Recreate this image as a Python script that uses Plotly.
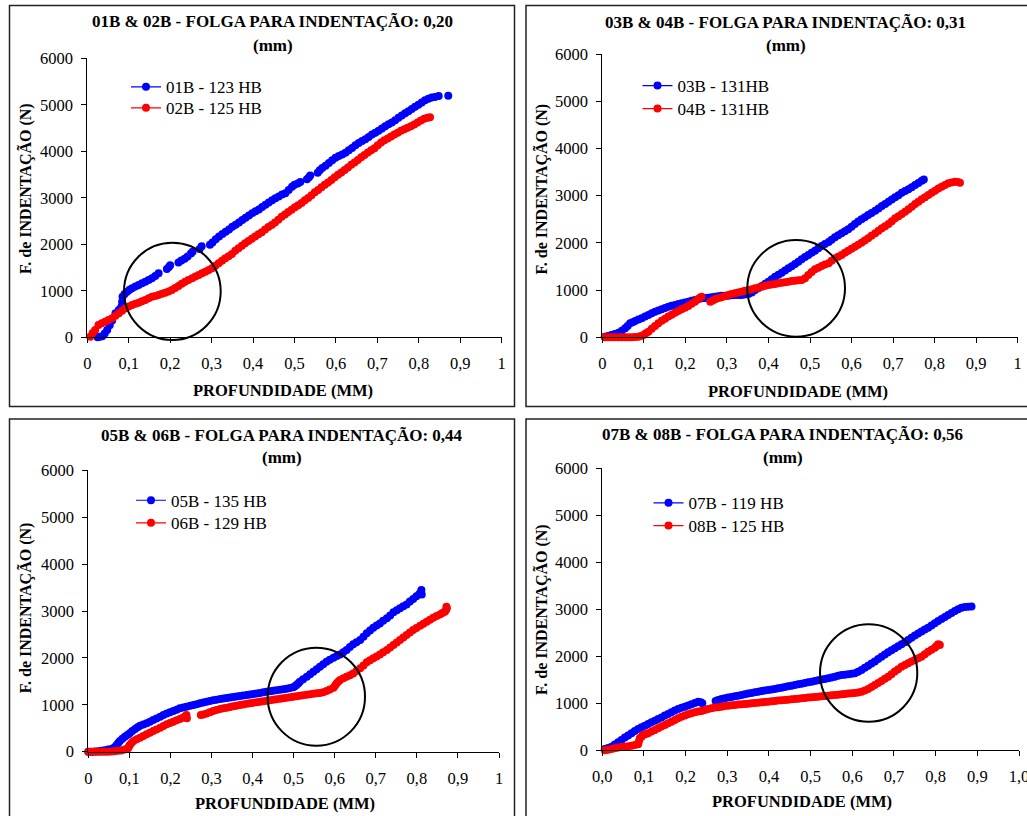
import plotly.graph_objects as go

# ---------------- data ----------------
N = None
p1_blue_x = [0.025,0.03,0.036,0.042,0.048,0.054,0.06,0.068,0.076,0.082,0.084,0.085,0.09,0.096,0.102,0.108,0.116,0.124,0.132,0.14,0.148,0.156,0.164,0.172,N,0.192,0.197,0.2,N,0.22,0.227,0.235,0.242,0.25,0.254,N,0.271,0.276,N,0.296,0.302,0.31,0.318,0.326,0.334,0.342,0.35,0.358,0.366,0.374,0.382,0.39,0.398,0.406,0.414,0.422,0.43,0.438,0.446,0.454,0.462,0.47,0.478,0.486,0.494,0.5,0.508,0.514,N,0.53,0.535,0.538,N,0.556,0.561,0.567,0.575,0.583,0.591,0.599,0.607,0.615,0.623,0.631,0.639,0.647,0.655,0.663,0.671,0.679,0.687,0.695,0.703,0.711,0.719,0.727,0.735,0.743,0.751,0.759,0.767,0.775,0.783,0.791,0.799,0.807,0.815,0.823,0.831,0.839,0.848,N,0.871]
p1_blue_y = [0,10,20,80,157,260,360,516,587,650,760,873,930,980,1020,1054,1090,1125,1160,1197,1233,1269,1320,1376,N,1470,1510,1550,N,1610,1650,1690,1740,1800,1841,N,1900,1960,N,1990,2040,2110,2170,2220,2270,2320,2380,2420,2470,2520,2570,2620,2670,2710,2750,2800,2850,2900,2945,2990,3030,3070,3100,3170,3240,3280,3310,3340,N,3400,3440,3480,N,3540,3590,3640,3690,3750,3810,3860,3900,3930,3970,4020,4070,4130,4180,4220,4260,4310,4360,4400,4440,4490,4540,4580,4620,4670,4720,4770,4820,4860,4910,4960,5000,5050,5100,5130,5155,5170,5190,N,5197]
p1_red_x = [0.007,0.013,0.019,0.027,0.035,0.043,0.051,0.06,0.068,0.076,0.084,0.092,0.1,0.108,0.116,0.124,0.132,0.14,0.148,0.156,0.164,0.172,0.18,0.188,0.196,0.204,0.212,0.22,0.228,0.236,0.244,0.253,0.261,0.269,0.277,0.285,0.293,0.301,0.309,0.317,0.325,0.333,0.341,0.349,0.357,0.365,0.373,0.381,0.389,0.397,0.405,0.413,0.421,0.429,0.437,0.445,0.453,0.461,0.469,0.477,0.485,0.493,0.501,0.509,0.517,0.525,0.533,0.541,0.549,0.557,0.565,0.573,0.581,0.589,0.597,0.605,0.613,0.621,0.629,0.637,0.645,0.653,0.661,0.669,0.677,0.685,0.693,0.701,0.709,0.717,0.725,0.733,0.741,0.749,0.757,0.765,0.773,0.781,0.789,0.797,0.805,0.813,0.821,0.827]
p1_red_y = [13,90,157,264,300,336,372,409,462,516,570,624,660,695,720,745,775,802,840,873,890,910,935,959,985,1017,1060,1103,1150,1196,1232,1269,1305,1340,1375,1411,1448,1484,1537,1591,1645,1699,1745,1791,1860,1915,1970,2020,2070,2120,2170,2215,2260,2320,2370,2415,2470,2530,2590,2640,2695,2745,2795,2840,2890,2945,2995,3055,3120,3170,3225,3280,3330,3385,3440,3495,3545,3600,3650,3710,3760,3815,3870,3920,3975,4020,4065,4130,4190,4235,4275,4320,4360,4400,4440,4475,4505,4540,4575,4620,4665,4700,4720,4731]

p2_blue_x = [0.006,0.014,0.022,0.03,0.039,0.047,0.055,0.061,0.067,0.073,0.079,0.087,0.095,0.103,0.111,0.119,0.127,0.135,0.143,0.151,0.159,0.167,0.175,0.183,0.191,0.199,0.207,0.215,0.223,0.231,0.239,0.247,0.255,0.263,0.271,0.279,0.287,0.295,0.303,0.311,0.319,0.327,0.335,0.343,0.352,0.36,0.368,0.376,0.384,0.392,0.4,0.408,0.416,0.424,0.432,0.44,0.448,0.456,0.464,0.472,0.48,0.488,0.496,0.504,0.512,0.52,0.528,0.536,0.545,0.552,0.56,0.568,0.576,0.584,0.592,0.6,0.608,0.616,0.624,0.632,0.64,0.648,0.657,0.665,0.673,0.681,0.689,0.697,0.705,0.713,0.721,0.729,0.737,0.745,0.753,0.761,0.769,0.774]
p2_blue_y = [14,30,49,70,99,140,190,240,296,320,346,375,402,440,473,510,543,570,593,620,649,668,685,703,720,738,755,772,790,808,826,833,840,850,861,872,882,882,882,889,896,896,896,905,917,950,1002,1045,1087,1133,1179,1230,1284,1325,1369,1415,1461,1507,1553,1600,1652,1700,1743,1790,1835,1885,1934,1975,2018,2065,2117,2160,2202,2245,2287,2340,2399,2450,2498,2545,2590,2635,2682,2730,2781,2825,2872,2920,2964,3010,3063,3100,3133,3180,3225,3270,3317,3340]
p2_red_x = [0.006,0.014,0.022,0.03,0.039,0.047,0.055,0.063,0.071,0.079,0.087,0.093,0.099,0.105,0.111,0.119,0.127,0.135,0.143,0.151,0.159,0.167,0.175,0.183,0.191,0.199,0.207,0.215,0.223,0.229,0.235,0.239,N,0.26,0.266,0.273,0.28,0.287,0.295,0.303,0.311,0.319,0.327,0.335,0.343,0.352,0.36,0.368,0.376,0.384,0.392,0.4,0.408,0.416,0.424,0.432,0.44,0.448,0.456,0.464,0.472,0.48,0.488,0.496,0.504,0.512,0.52,0.528,0.536,0.545,0.552,0.56,0.568,0.576,0.584,0.592,0.6,0.608,0.616,0.624,0.632,0.64,0.648,0.657,0.665,0.673,0.681,0.689,0.697,0.705,0.713,0.721,0.729,0.737,0.745,0.753,0.761,0.769,0.777,0.785,0.793,0.801,0.809,0.817,0.825,0.833,0.841,0.849,0.856,0.861]
p2_red_y = [0,0,0,0,0,0,0,0,0,5,14,30,49,85,120,180,240,297,353,395,438,480,522,557,593,628,663,710,755,800,840,861,N,755,780,810,830,847,870,896,915,932,950,967,985,1002,1020,1037,1055,1073,1090,1108,1118,1129,1143,1157,1168,1179,1190,1200,1207,1214,1249,1320,1385,1440,1475,1510,1540,1567,1620,1673,1708,1743,1790,1835,1878,1920,1962,2004,2050,2096,2150,2202,2255,2308,2350,2399,2460,2520,2565,2612,2660,2710,2765,2823,2870,2922,2968,3013,3060,3105,3150,3190,3225,3260,3280,3296,3290,3275]

p3_blue_x = [0,0.008,0.016,0.024,0.032,0.04,0.048,0.056,0.061,0.065,0.069,0.073,0.077,0.083,0.089,0.095,0.101,0.107,0.114,0.12,0.126,0.134,0.142,0.15,0.158,0.166,0.175,0.183,0.191,0.199,0.207,0.215,0.223,0.231,0.239,0.248,0.256,0.264,0.272,0.28,0.288,0.296,0.304,0.312,0.321,0.329,0.337,0.345,0.353,0.361,0.369,0.377,0.386,0.394,0.402,0.41,0.418,0.426,0.434,0.442,0.45,0.458,0.467,0.475,0.483,0.491,0.499,0.503,0.507,0.511,0.515,0.523,0.532,0.54,0.548,0.556,0.564,0.572,0.58,0.588,0.597,0.605,0.613,0.621,0.629,0.637,0.645,0.653,0.662,0.67,0.678,0.686,0.694,0.702,0.71,0.718,0.727,0.735,0.743,0.751,0.759,0.767,0.775,0.783,0.791,0.799,0.806,0.81,0.811,0.812]
p3_blue_y = [0,0,5,10,20,30,45,55,71,100,142,185,227,275,320,355,391,440,483,520,554,580,604,640,675,710,746,780,817,842,867,895,924,942,960,978,995,1013,1031,1048,1066,1080,1095,1109,1123,1134,1144,1155,1166,1176,1187,1198,1208,1219,1230,1240,1251,1265,1279,1290,1301,1312,1322,1333,1343,1358,1372,1395,1421,1455,1493,1545,1599,1650,1706,1760,1812,1865,1919,1960,2004,2040,2075,2120,2168,2230,2289,2335,2381,2450,2523,2585,2644,2690,2736,2790,2843,2905,2971,3015,3056,3100,3141,3200,3255,3315,3360,3400,3450,3350]
p3_red_x = [0,0.008,0.016,0.024,0.032,0.04,0.048,0.056,0.064,0.072,0.08,0.088,0.094,0.097,0.099,0.101,0.105,0.11,0.118,0.126,0.134,0.142,0.15,0.158,0.166,0.175,0.183,0.191,0.199,0.207,0.215,0.223,0.23,0.235,0.239,0.24,N,0.274,0.28,0.288,0.296,0.304,0.312,0.321,0.329,0.337,0.345,0.353,0.361,0.369,0.377,0.386,0.394,0.402,0.41,0.418,0.426,0.434,0.442,0.45,0.458,0.467,0.475,0.483,0.491,0.499,0.507,0.515,0.523,0.532,0.54,0.548,0.556,0.564,0.572,0.58,0.588,0.597,0.601,0.605,0.609,0.613,0.621,0.629,0.637,0.645,0.653,0.662,0.67,0.678,0.686,0.694,0.702,0.71,0.718,0.727,0.735,0.743,0.751,0.759,0.767,0.775,0.783,0.791,0.799,0.808,0.816,0.824,0.832,0.84,0.848,0.856,0.862,0.868,0.871,0.873,0.872]
p3_red_y = [0,0,0,0,0,0,0,5,10,18,28,45,60,71,110,142,185,227,265,299,335,370,405,441,475,512,548,583,612,640,668,697,725,746,780,711,N,782,795,817,842,867,890,910,925,938,952,967,981,995,1009,1023,1034,1045,1055,1066,1076,1087,1098,1109,1120,1130,1140,1151,1162,1173,1183,1194,1204,1215,1226,1237,1244,1251,1270,1294,1325,1365,1410,1457,1495,1528,1565,1599,1630,1670,1720,1777,1840,1905,1950,1990,2030,2075,2120,2168,2220,2274,2330,2381,2435,2488,2540,2594,2640,2687,2730,2772,2815,2857,2895,2928,2955,2985,3020,3056,3090]

p4_blue_x = [0.006,0.014,0.022,0.03,0.038,0.046,0.054,0.062,0.07,0.078,0.086,0.094,0.102,0.11,0.118,0.126,0.134,0.142,0.15,0.158,0.166,0.174,0.182,0.19,0.198,0.206,0.214,0.222,0.23,0.236,0.24,N,0.272,0.278,0.286,0.294,0.302,0.31,0.318,0.326,0.334,0.342,0.35,0.358,0.366,0.374,0.382,0.39,0.398,0.406,0.414,0.422,0.43,0.438,0.446,0.454,0.462,0.47,0.478,0.486,0.494,0.502,0.51,0.518,0.526,0.534,0.542,0.55,0.558,0.566,0.574,0.582,0.59,0.598,0.606,0.614,0.622,0.63,0.638,0.646,0.654,0.662,0.67,0.678,0.686,0.694,0.702,0.71,0.718,0.726,0.734,0.742,0.75,0.758,0.766,0.774,0.782,0.79,0.798,0.806,0.814,0.822,0.83,0.838,0.846,0.854,0.862,0.87,0.878,0.886]
p4_blue_y = [28,50,78,125,170,220,270,315,362,410,454,490,525,560,596,630,667,700,738,775,809,845,879,905,929,955,979,1005,1035,1021,1000,N,1050,1070,1092,1106,1121,1135,1149,1163,1177,1192,1206,1220,1234,1248,1262,1273,1284,1295,1305,1319,1333,1348,1362,1376,1390,1404,1418,1433,1447,1461,1475,1490,1504,1518,1532,1550,1567,1585,1603,1610,1617,1627,1638,1670,1709,1755,1801,1845,1887,1940,1993,2040,2085,2128,2170,2213,2255,2300,2348,2395,2440,2483,2525,2568,2610,2655,2702,2750,2794,2835,2879,2920,2965,3000,3035,3050,3055,3057]
p4_red_x = [0.006,0.014,0.022,0.03,0.038,0.046,0.054,0.062,0.07,0.078,0.086,0.088,0.09,0.094,0.098,0.104,0.11,0.118,0.126,0.134,0.142,0.15,0.158,0.166,0.174,0.182,0.19,0.198,0.206,0.214,0.222,0.23,0.238,0.246,0.254,0.262,0.27,0.278,0.286,0.294,0.302,0.31,0.318,0.326,0.334,0.342,0.35,0.358,0.366,0.374,0.382,0.39,0.398,0.406,0.414,0.422,0.43,0.438,0.446,0.454,0.462,0.47,0.478,0.486,0.494,0.502,0.51,0.518,0.526,0.534,0.542,0.55,0.558,0.566,0.574,0.582,0.59,0.598,0.606,0.614,0.622,0.63,0.638,0.646,0.654,0.662,0.67,0.678,0.686,0.694,0.702,0.71,0.718,0.726,0.734,0.742,0.75,0.758,0.766,0.774,0.782,0.79,0.798,0.802,0.806,0.81]
p4_red_y = [0,14,28,42,57,68,78,88,99,113,128,190,255,290,326,345,362,398,433,468,504,540,574,610,645,680,716,741,766,788,809,823,837,858,879,893,908,918,929,940,950,958,965,972,979,986,993,1000,1007,1014,1021,1028,1035,1043,1050,1057,1064,1071,1078,1085,1092,1099,1106,1114,1121,1128,1135,1142,1149,1156,1163,1170,1177,1184,1191,1199,1206,1213,1220,1232,1248,1275,1305,1345,1390,1432,1475,1520,1567,1620,1674,1727,1780,1815,1851,1887,1922,1957,1993,2046,2099,2140,2184,2220,2255,2241]

titles = ["01B & 02B - FOLGA PARA INDENTAÇÃO: 0,20",
          "03B & 04B - FOLGA PARA INDENTAÇÃO: 0,31",
          "05B & 06B - FOLGA PARA INDENTAÇÃO: 0,44",
          "07B & 08B - FOLGA PARA INDENTAÇÃO: 0,56"]
blue_names = ["01B - 123 HB", "03B - 131HB", "05B - 135 HB", "07B - 119 HB"]
red_names = ["02B - 125 HB", "04B - 131HB", "06B - 129 HB", "08B - 125 HB"]
x_title = "PROFUNDIDADE (MM)"
y_title = "F. de INDENTAÇÃO (N)"
x_tickvals = [0, 0.1, 0.2, 0.3, 0.4, 0.5, 0.6, 0.7, 0.8, 0.9, 1.0]
x_ticktext_a = ["0", "0,1", "0,2", "0,3", "0,4", "0,5", "0,6", "0,7", "0,8", "0,9", "1"]
x_ticktext_b = ["0,0", "0,1", "0,2", "0,3", "0,4", "0,5", "0,6", "0,7", "0,8", "0,9", "1,0"]
y_tickvals = [0, 1000, 2000, 3000, 4000, 5000, 6000]
y_ticktext = ["0", "1000", "2000", "3000", "4000", "5000", "6000"]

series = [
    (p1_blue_x, p1_blue_y, p1_red_x, p1_red_y),
    (p2_blue_x, p2_blue_y, p2_red_x, p2_red_y),
    (p3_blue_x, p3_blue_y, p3_red_x, p3_red_y),
    (p4_blue_x, p4_blue_y, p4_red_x, p4_red_y),
]

# ---------------- layout helpers (pixels -> paper) ----------------
W, H = 1027, 816
def fx(px): return px / W
def fy(py): return 1 - py / H

FONT = "Liberation Serif"
BLUE = "#0000FF"
RED = "#FF0000"

areas = [(87.3, 501.7, 58.3, 337.3),
         (602.3, 1017.7, 54.0, 337.3),
         (88.3, 499.0, 470.3, 751.7),
         (602.3, 1019.0, 468.3, 750.3)]
title_pos = [(272.8, 21.7, 45.0), (785.8, 22.7, 45.7), (281.7, 435.0, 457.7), (782.8, 434.3, 457.7)]
ytitle_pos = [(25, 189), (541, 189.5), (25, 608.3), (541, 610)]
xtitle_pos = [(282.8, 390.7), (797.5, 391.7), (284.7, 803.3), (801.7, 801.7)]
legend_pos = [(126, 87.3, 108.3), (637.5, 86, 109), (131, 500.7, 523.3), (648.5, 503.3, 526)]
circles = [(124, 220.7, 242.7, 340), (747.3, 845, 240, 336.7), (267.7, 365, 647.7, 745.7), (820, 917.3, 624.3, 721.7)]
borders = [(9.5, 514.5, 5.5, 406.5), (526, 1032, 5.5, 406.5), (9.5, 514.5, 419, 822), (526, 1032, 419, 822)]

fig = go.Figure()
layout = dict(width=W, height=H, margin=dict(l=0, r=0, t=0, b=0, pad=0, autoexpand=False),
              paper_bgcolor="white", plot_bgcolor="white", showlegend=True,
              font=dict(family=FONT, size=16, color="black"), shapes=[], annotations=[])

for i in range(4):
    bx, by, rx, ry = series[i]
    xa = "x" if i == 0 else f"x{i+1}"
    ya = "y" if i == 0 else f"y{i+1}"
    lg_b = f"legend{2*i+1}" if i > 0 else "legend"
    lg_r = f"legend{2*i+2}"
    fig.add_trace(go.Scatter(x=bx, y=by, mode="lines+markers", name=blue_names[i],
                             xaxis=xa, yaxis=ya, legend=lg_b, cliponaxis=False, showlegend=True,
                             line=dict(color=BLUE, width=1.2),
                             marker=dict(color=BLUE, size=8), connectgaps=False))
    fig.add_trace(go.Scatter(x=rx, y=ry, mode="lines+markers", name=red_names[i],
                             xaxis=xa, yaxis=ya, legend=lg_r, cliponaxis=False, showlegend=True,
                             line=dict(color=RED, width=1.2),
                             marker=dict(color=RED, size=8), connectgaps=False))
    x0, x1, yt, yb = areas[i]
    xkey = "xaxis" if i == 0 else f"xaxis{i+1}"
    ykey = "yaxis" if i == 0 else f"yaxis{i+1}"
    layout[xkey] = dict(domain=[fx(x0), fx(x1)], anchor=ya, range=[0, 1], automargin=False,
                        tickvals=x_tickvals, ticktext=(x_ticktext_b if i == 3 else x_ticktext_a),
                        showline=True, linecolor="black", linewidth=1, ticks="outside",
                        ticklen=5, tickcolor="black", showgrid=False, zeroline=False,
                        ticklabeloverflow="allow",
                        tickfont=dict(family=FONT, size=16.5, color="black"), ticklabelstandoff=6)
    layout[ykey] = dict(domain=[fy(yb), fy(yt)], anchor=xa, range=[0, 6000], automargin=False,
                        tickvals=y_tickvals, ticktext=y_ticktext,
                        showline=True, linecolor="black", linewidth=1, ticks="outside",
                        ticklen=5, tickcolor="black", showgrid=False, zeroline=False,
                        ticklabeloverflow="allow",
                        tickfont=dict(family=FONT, size=16.5, color="black"), ticklabelstandoff=5)
    lx, ly1, ly2 = legend_pos[i]
    for key, yy in ((lg_b, ly1), (lg_r, ly2)):
        layout[key] = dict(x=fx(lx), y=fy(yy), xanchor="left", yanchor="middle",
                           xref="paper", yref="paper", bgcolor="rgba(0,0,0,0)", visible=True,
                           font=dict(family=FONT, size=17, color="black"))
    tx, ty1, ty2 = title_pos[i]
    layout["annotations"].append(dict(x=fx(tx), y=fy(ty1), xref="paper", yref="paper",
                                      text="<b>" + titles[i] + "</b>", showarrow=False,
                                      xanchor="center", yanchor="middle",
                                      font=dict(family=FONT, size=17, color="black")))
    layout["annotations"].append(dict(x=fx(tx), y=fy(ty2), xref="paper", yref="paper",
                                      text="<b>(mm)</b>", showarrow=False,
                                      xanchor="center", yanchor="middle",
                                      font=dict(family=FONT, size=17, color="black")))
    ax_, ay_ = ytitle_pos[i]
    layout["annotations"].append(dict(x=fx(ax_), y=fy(ay_), xref="paper", yref="paper",
                                      text="<b>" + y_title + "</b>", showarrow=False, textangle=-90,
                                      xanchor="center", yanchor="middle",
                                      font=dict(family=FONT, size=16, color="black")))
    bx_, by_ = xtitle_pos[i]
    layout["annotations"].append(dict(x=fx(bx_), y=fy(by_), xref="paper", yref="paper",
                                      text="<b>" + x_title + "</b>", showarrow=False,
                                      xanchor="center", yanchor="middle",
                                      font=dict(family=FONT, size=16.5, color="black")))
    cx0, cx1, cy0, cy1 = circles[i]
    layout["shapes"].append(dict(type="circle", xref="paper", yref="paper",
                                 x0=fx(cx0), x1=fx(cx1), y0=fy(cy1), y1=fy(cy0),
                                 line=dict(color="black", width=2)))
    rx0, rx1, ry0, ry1 = borders[i]
    layout["shapes"].append(dict(type="rect", xref="paper", yref="paper",
                                 x0=fx(rx0), x1=fx(rx1), y0=fy(ry1), y1=fy(ry0),
                                 line=dict(color="#222222", width=1.5)))

fig.update_layout(**layout)
fig.write_html("out.html")
